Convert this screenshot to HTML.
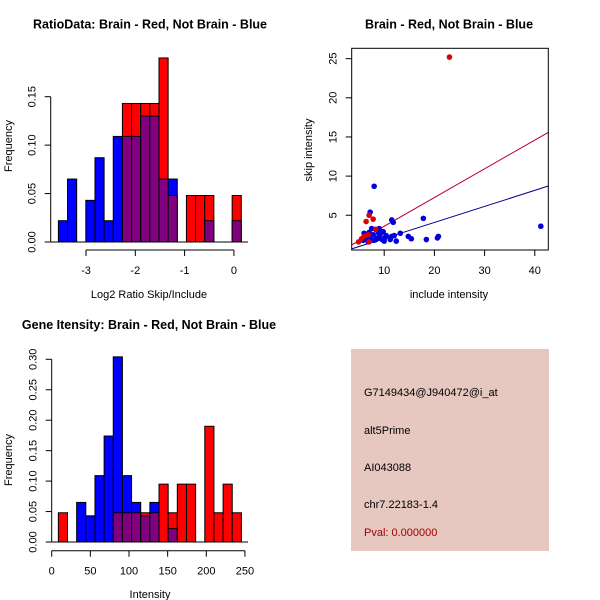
<!DOCTYPE html>
<html><head><meta charset="utf-8"><style>
body{margin:0;background:#fff;}
svg{display:block;font-family:"Liberation Sans",sans-serif;}
</style></head><body>
<svg id="s" width="600" height="600" viewBox="0 0 600 600" xmlns="http://www.w3.org/2000/svg">
<rect width="600" height="600" fill="#fff"/>
<text x="150" y="28.5" font-size="12.5" font-weight="bold" text-anchor="middle">RatioData: Brain - Red, Not Brain - Blue</text>
<text x="449" y="28.5" font-size="12.5" font-weight="bold" text-anchor="middle">Brain - Red, Not Brain - Blue</text>
<text x="149" y="329" font-size="12.5" font-weight="bold" text-anchor="middle">Gene Itensity: Brain - Red, Not Brain - Blue</text>
<text x="149" y="298" font-size="11" text-anchor="middle">Log2 Ratio Skip/Include</text>
<text transform="translate(12,146) rotate(-90)" font-size="11" text-anchor="middle">Frequency</text>
<text x="150" y="598" font-size="11" text-anchor="middle">Intensity</text>
<text transform="translate(12,460) rotate(-90)" font-size="11" text-anchor="middle">Frequency</text>
<text x="449" y="298" font-size="11" text-anchor="middle">include intensity</text>
<text transform="translate(312,150) rotate(-90)" font-size="11" text-anchor="middle">skip intensity</text>
<g>
<rect x="351" y="349" width="198" height="202" fill="#e6c8c0"/>
<text x="364" y="396" font-size="11">G7149434@J940472@i_at</text>
<text x="364" y="434" font-size="11">alt5Prime</text>
<text x="364" y="471" font-size="11">AI043088</text>
<text x="364" y="508" font-size="11">chr7.22183-1.4</text>
<text x="364" y="536" font-size="11" fill="#a00000">Pval: 0.000000</text>
</g>
<g id="g"></g>
</svg>
<script>
// Ratio histogram data (20 bins)
const ratioBreakStart = -3.56, ratioBinWidth = 0.1855;
const ratioBlue = [0.022,0.065,0,0.043,0.087,0.022,0.109,0.109,0.109,0.130,0.130,0.065,0.065,0,0,0,0.022,0,0,0.022];
const ratioRed  = [0,0,0,0,0,0,0,0.143,0.143,0.143,0.143,0.190,0.048,0,0.048,0.048,0.048,0,0,0.048];
const ratioXTicks = [-3,-2,-1,0];
const ratioYTicks = [0,0.05,0.10,0.15];
const ratioYLabels = ["0.00","0.05","0.10","0.15"];
// Intensity histogram data
const intBreakStart = 8.6, intBinWidth = 11.84;
const intBlue = [0,0,0.065,0.043,0.109,0.174,0.304,0.109,0.065,0.043,0.065,0,0.022,0,0,0,0,0,0,0];
const intRed  = [0.048,0,0,0,0,0,0.048,0.048,0.048,0.048,0.048,0.095,0.048,0.095,0.095,0,0.190,0.048,0.095,0.048];
const intXTicks = [0,50,100,150,200,250];
const intYTicks = [0,0.05,0.10,0.15,0.20,0.25,0.30];
const intYLabels = ["0.00","0.05","0.10","0.15","0.20","0.25","0.30"];
// Scatter data
const redX = [23,4.9,6.4,7,7.8,5.5,6,7,8.3,6.8];
const redY = [25.2,1.6,4.2,5,4.5,2,2.3,1.6,3.2,2.5];
const blueX = [7.2,8,11.5,11.8,17.8,41.2,13.2,14.8,15.4,18.4,20.6,20.8,12.4,11.2,11.5,12,10,10.2,9.5,9.8,9,9.2,8.6,8,7.5,7,6.5,6,5.5,5.8,6.8,7.8,8.8,9.4,10.4,8.4,7.2,6.2,9.6];
const blueY = [5.4,8.7,4.4,4.1,4.6,3.6,2.7,2.3,2,1.9,2.1,2.3,1.7,1.9,2.3,2.4,1.7,2.2,2.9,2.9,3.3,2.6,2.1,1.8,3.3,2.8,2.3,2.7,1.9,1.8,1.6,2.5,2.8,2,2.4,1.9,2,2.1,1.9];
const redFit = [-0.08,0.367];  // intercept, slope
const blueFit = [-0.02,0.205];
const scXTicks = [10,20,30,40];
const scYTicks = [5,10,15,20,25];

const NS="http://www.w3.org/2000/svg", G=document.getElementById('g');
function mk(t,a,p){const e=document.createElementNS(NS,t);for(const k in a)e.setAttribute(k,a[k]);(p||G).appendChild(e);return e;}

function hist(blue,red,start,bw,xs,ys,xTicks,yTicks,yLabels,base,axY,xMin,xMax,prefix){
  const g=mk('g',{});
  
  
  for(let i=0;i<blue.length;i++){
    const x0=xs(start+i*bw),x1=xs(start+(i+1)*bw),b=blue[i],r=red[i];
    const draw=(v,c,n)=>{if(v<=0)return;const e=mk('rect',{x:x0,y:ys(v),width:x1-x0,height:ys(0)-ys(v),fill:c,stroke:'#000','stroke-width':1},g);
      
      };
    if(b>=r){draw(b,'#0000ff',prefix+'-bar-blue');draw(r,'#800080',prefix+'-bar-overlap');}
    else{draw(r,'#ff0000',prefix+'-bar-red');draw(b,'#800080',prefix+'-bar-overlap');}
  }
  mk('line',{x1:xMin,x2:xMax,y1:ys(0),y2:ys(0),stroke:'#000'},g);
  const ya=mk('g',{},g);
  
  
  mk('line',{x1:base,x2:base,y1:ys(yTicks[0]),y2:ys(yTicks[yTicks.length-1]),stroke:'#000'},ya);
  yTicks.forEach((t,i)=>{const y=ys(t);mk('line',{x1:base,x2:base-6,y1:y,y2:y,stroke:'#000'},ya);
    const tx=mk('text',{transform:`translate(${base-15},${y}) rotate(-90)`,'font-size':11,'text-anchor':'middle'},ya);tx.textContent=yLabels[i];});
  const xa=mk('g',{},g);
  
  
  mk('line',{x1:xs(xTicks[0]),x2:xs(xTicks[xTicks.length-1]),y1:axY,y2:axY,stroke:'#000'},xa);
  xTicks.forEach(t=>{const x=xs(t);mk('line',{x1:x,x2:x,y1:axY,y2:axY+6,stroke:'#000'},xa);
    const tx=mk('text',{x:x,y:axY+24,'font-size':11,'text-anchor':'middle'},xa);tx.textContent=String(t);});
}
hist(ratioBlue,ratioRed,ratioBreakStart,ratioBinWidth,
  v=>86+(v+3)*49.3, v=>242-v*968.7, ratioXTicks,ratioYTicks,ratioYLabels,50.7,250,50.7,248,'ratio');
hist(intBlue,intRed,intBreakStart,intBinWidth,
  v=>51.7+v*0.773, v=>542-v*609, intXTicks,intYTicks,intYLabels,51.7,550.7,51.7,248,'intensity');

const sx=v=>334+v*5.02, sy=v=>254.4-v*7.83;
const sg=mk('g',{});


const L=351.7,R=548.3,T=48.3,B=250;
const cp=mk('clipPath',{id:'cp'},sg);mk('rect',{x:L,y:T,width:R-L,height:B-T},cp);
const fits=[[redFit,'#c00030','red-fit-line'],[blueFit,'#000090','blue-fit-line']];
fits.forEach(([f,c,n])=>{const x0=(L-334)/5.02,x1=(R-334)/5.02;
  const e=mk('line',{x1:sx(x0),y1:sy(f[0]+f[1]*x0),x2:sx(x1),y2:sy(f[0]+f[1]*x1),stroke:c,'stroke-width':1,'clip-path':'url(#cp)'},sg);
  
  });
blueX.forEach((x,i)=>{const e=mk('circle',{cx:sx(x),cy:sy(blueY[i]),r:2.8,fill:'#0000dd'},sg);
  
  });
redX.forEach((x,i)=>{const e=mk('circle',{cx:sx(x),cy:sy(redY[i]),r:2.8,fill:'#dd0000'},sg);
  
  });
mk('rect',{x:L,y:T,width:R-L,height:B-T,fill:'none',stroke:'#000'},sg);
scXTicks.forEach(t=>{const x=sx(t);mk('line',{x1:x,x2:x,y1:B,y2:B+6,stroke:'#000'},sg);
  const tx=mk('text',{x:x,y:B+24,'font-size':11,'text-anchor':'middle'},sg);tx.textContent=String(t);});
scYTicks.forEach(t=>{const y=sy(t);mk('line',{x1:L,x2:L-6,y1:y,y2:y,stroke:'#000'},sg);
  const tx=mk('text',{transform:`translate(${L-15},${y}) rotate(-90)`,'font-size':11,'text-anchor':'middle'},sg);tx.textContent=String(t);});
</script>
</body></html>
